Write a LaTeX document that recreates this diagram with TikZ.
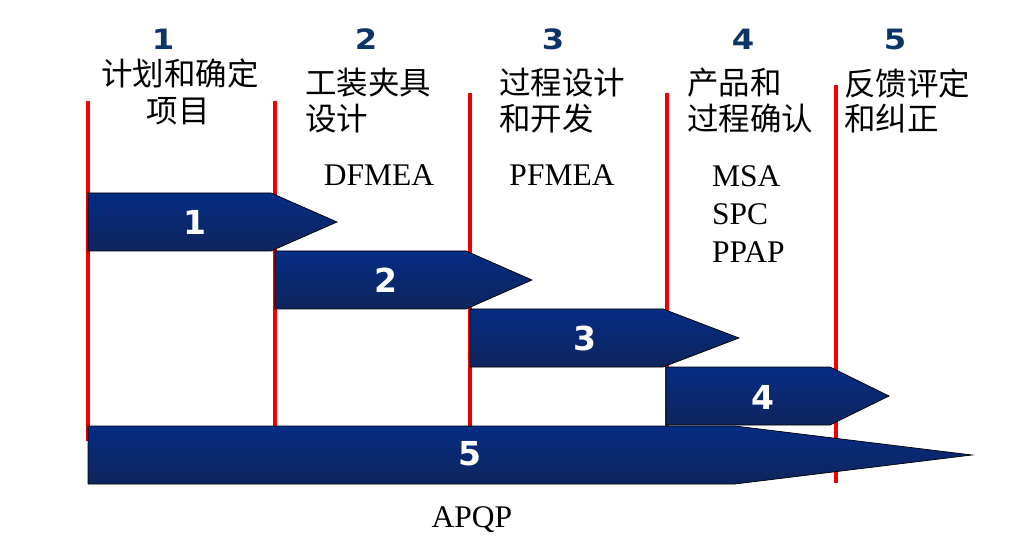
\documentclass[tikz,border=0pt]{standalone}
\usepackage{fontspec}
\usepackage{graphicx}
\setmainfont{Liberation Serif}
\newfontfamily\cjk{Noto Sans CJK SC}
\newfontfamily\dejab{DejaVu Sans}
\definecolor{bartop}{RGB}{5,44,132}
\definecolor{barmid}{RGB}{8,42,122}
\definecolor{barbot}{RGB}{15,36,92}
\definecolor{numblue}{RGB}{12,52,105}
\definecolor{redline}{RGB}{240,0,0}
\newcommand{\hwide}[1]{\scalebox{1.15}[1]{#1}}
\tikzset{
  bar/.style={draw=black, line width=0.7pt, top color=bartop, middle color=barmid, bottom color=barbot},
  barnum/.style={text=white, font=\dejab\bfseries\fontsize{33}{36}\selectfont, inner sep=0pt},
  hnum/.style={text=numblue, font=\dejab\bfseries\fontsize{28}{30}\selectfont, inner sep=0pt},
  hcjk/.style={text=black, font=\cjk\fontsize{31.5}{36}\selectfont, inner sep=0pt},
  tool/.style={text=black, font=\fontsize{31.5}{36}\selectfont, inner sep=0pt},
  sep/.style={draw=redline, line width=3.3pt}
}
\begin{document}
\begin{tikzpicture}[x=1pt,y=-1pt]
\useasboundingbox[fill=white] (0,0) rectangle (1020,553);
% separators
\coordinate (s1t) at (88,101); \coordinate (s1b) at (88,441);
\coordinate (s2t) at (275,101); \coordinate (s2b) at (275,426);
\coordinate (s3t) at (470,93); \coordinate (s3b) at (470,426);
\coordinate (s4t) at (667,93); \coordinate (s4b) at (667,426);
\coordinate (s5t) at (836,85); \coordinate (s5b) at (836,483);
\foreach \i in {1,...,5} { \draw[sep] (s\i t) -- (s\i b); }
% arrows
\path[bar] (88,193) -- (271,193) -- (337,222) -- (271,251) -- (88,251) -- cycle;
\path[bar] (275,251) -- (466,251) -- (532,280) -- (466,309) -- (275,309) -- cycle;
\path[bar] (470,309) -- (663,309) -- (739,338) -- (663,367) -- (470,367) -- cycle;
\path[bar] (666,367) -- (830,367) -- (889,396) -- (830,425) -- (666,425) -- cycle;
\path[bar] (88,426) -- (735,426) -- (972,455) -- (735,484) -- (88,484) -- cycle;
\node[barnum] (a1) at (195,222) {1};
\node[barnum] (a2) at (386,280) {2};
\node[barnum] (a3) at (585,338) {3};
\node[barnum] (a4) at (763,397) {4};
\node[barnum] (a5) at (470,454) {5};
% header numbers
\node[hnum] (h1) at (163,39) {\hwide{1}};
\node[hnum] (h2) at (366,39) {\hwide{2}};
\node[hnum] (h3) at (553,39) {\hwide{3}};
\node[hnum] (h4) at (743,39) {\hwide{4}};
\node[hnum] (h5) at (895,39) {\hwide{5}};
% header texts
\node[hcjk] (c1a) at (180,73) {计划和确定};
\node[hcjk] (c1b) at (178,111) {项目};
\node[hcjk, anchor=west] (c2a) at (305,83) {工装夹具};
\node[hcjk, anchor=west] (c2b) at (305,119) {设计};
\node[hcjk, anchor=west] (c3a) at (499,83) {过程设计};
\node[hcjk, anchor=west] (c3b) at (499,119) {和开发};
\node[hcjk, anchor=west] (c4a) at (687,83) {产品和};
\node[hcjk, anchor=west] (c4b) at (687,119) {过程确认};
\node[hcjk, anchor=west] (c5a) at (844,83) {反馈评定};
\node[hcjk, anchor=west] (c5b) at (844,119) {和纠正};
% tools
\node[tool, anchor=base] (t1) at (379,186) {DFMEA};
\node[tool, anchor=base] (t2) at (562,186) {PFMEA};
\node[tool, anchor=base west] (t3) at (712,187) {MSA};
\node[tool, anchor=base west] (t4) at (712,225) {SPC};
\node[tool, anchor=base west] (t5) at (712,263) {PPAP};
\node[tool, anchor=base] (t6) at (472,527) {APQP};
\end{tikzpicture}
\end{document}
